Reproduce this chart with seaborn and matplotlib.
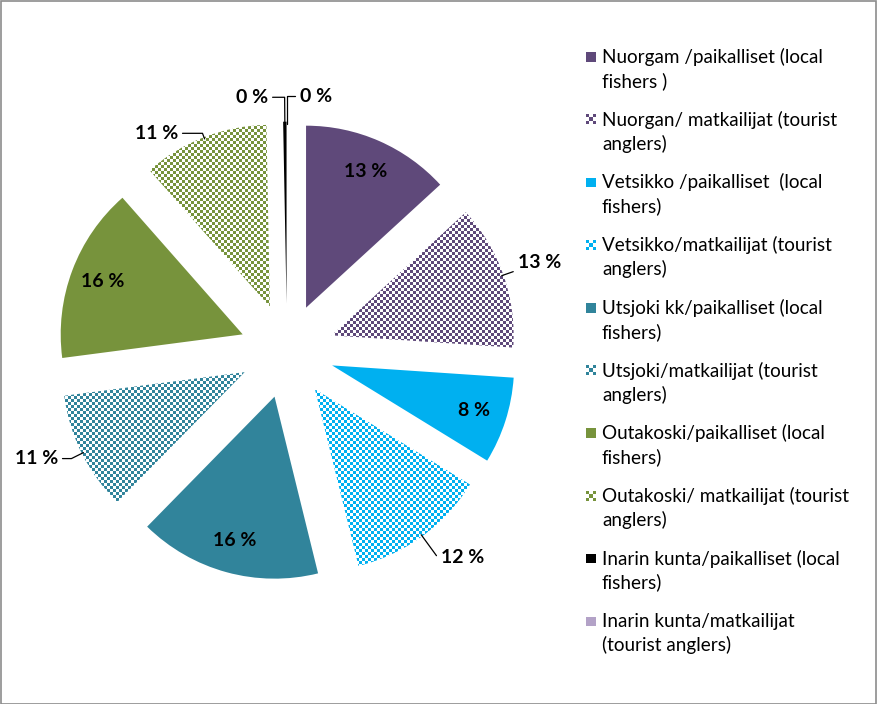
import numpy as np
import matplotlib
matplotlib.use("Agg")
import matplotlib.pyplot as plt
import seaborn as sns
from matplotlib.patches import Rectangle

# ---------------- data ----------------
categories = [
    "Nuorgam /paikalliset (local\nfishers )",
    "Nuorgan/ matkailijat (tourist\nanglers)",
    "Vetsikko /paikalliset  (local\nfishers)",
    "Vetsikko/matkailijat (tourist\nanglers)",
    "Utsjoki kk/paikalliset (local\nfishers)",
    "Utsjoki/matkailijat (tourist\nanglers)",
    "Outakoski/paikalliset (local\nfishers)",
    "Outakoski/ matkailijat (tourist\nanglers)",
    "Inarin kunta/paikalliset (local\nfishers)",
    "Inarin kunta/matkailijat\n(tourist anglers)",
]
values = [13.2, 12.9, 7.7, 12.4, 16.2, 10.6, 15.6, 11.2, 0.3, 0.0]
value_labels = ["13 %", "13 %", "8 %", "12 %", "16 %", "11 %", "16 %", "11 %", "0 %", "0 %"]

# ---------------- style ----------------
colors = ["#5F497A", "#5F497A", "#00B0F0", "#00B0F0", "#31849B",
          "#31849B", "#77933C", "#77933C", "#000000", "#B3A2C7"]
checkered = [False, True, False, True, False, True, False, True, False, False]
# (radial factor, angle shift in degrees, outside with leader line)
label_style = [(0.82, 0, False), (1.21, 0, True), (0.82, 0, False), (1.23, 5, True),
               (0.82, 0, False), (1.24, -4, True), (0.82, 0, False), (1.14, 12, True),
               (1.15, 9, True), (1.15, -8, True)]

sns.set_theme(style="white")
plt.rcParams["font.family"] = ["Lato", "DejaVu Sans"]

W, H = 877, 704
fig = plt.figure(figsize=(W / 100, H / 100), dpi=100)
fig.patch.set_facecolor("white")

R_PX = 182
CX, CY = 287, 351
HW, HH = 279, 339
CELL = 3

ax = fig.add_axes([(CX - HW) / W, (H - CY - HH) / H, 2 * HW / W, 2 * HH / H])

wedges, _ = ax.pie(values, explode=[0.26] * len(values), colors=colors,
                   startangle=90, counterclock=False, radius=1, normalize=True,
                   wedgeprops=dict(linewidth=0))

xl = (-HW / R_PX, HW / R_PX)
yl = (-HH / R_PX, HH / R_PX)


def checker(color, nx, ny):
    rgb = np.array(matplotlib.colors.to_rgb(color))
    arr = np.ones((ny, nx, 3))
    ii, jj = np.indices((ny, nx))
    mask = (ii + jj) % 2 == 0
    arr[mask] = rgb
    return arr


for w, c, chk in zip(wedges, colors, checkered):
    if chk:
        w.set_facecolor("none")
        img = ax.imshow(checker(c, 2 * HW // CELL, 2 * HH // CELL),
                        extent=(xl[0], xl[1], yl[0], yl[1]),
                        interpolation="nearest", origin="upper", zorder=w.get_zorder())
        img.set_clip_path(w)

ax.set_xlim(*xl)
ax.set_ylim(*yl)
ax.set_aspect("auto")
ax.axis("off")

# value labels
for w, txt, (rf, dth, outside) in zip(wedges, value_labels, label_style):
    mid = np.deg2rad((w.theta1 + w.theta2) / 2)
    cx, cy = w.center
    ang = mid + np.deg2rad(dth)
    pos = (cx + rf * np.cos(ang), cy + rf * np.sin(ang))
    if outside:
        anchor = (cx + 0.99 * np.cos(mid), cy + 0.99 * np.sin(mid))
        relx = 0 if pos[0] > anchor[0] else 1
        ax.annotate(txt, xy=anchor, xytext=pos, ha="center", va="center",
                    fontsize=14, fontweight="bold", color="black",
                    arrowprops=dict(arrowstyle="-", color="black", lw=0.9,
                                    shrinkA=1, shrinkB=0, relpos=(relx, 0.5),
                                    connectionstyle=f"angle,angleA=0,angleB={np.rad2deg(mid):.1f},rad=0"))
    else:
        ax.text(pos[0], pos[1], txt, ha="center", va="center",
                fontsize=14, fontweight="bold", color="black")

# legend drawn in pixel coordinates
lax = fig.add_axes([0, 0, 1, 1])
lax.set_xlim(0, W)
lax.set_ylim(H, 0)
lax.axis("off")

for i, (lab, c, chk) in enumerate(zip(categories, colors, checkered)):
    base = 63 + 62.7 * i
    sq = 9.5
    y0 = base - 6 - sq / 2
    if chk:
        lax.imshow(checker(c, 3, 3), extent=(586, 586 + sq, y0 + sq, y0),
                   interpolation="nearest", zorder=2)
    else:
        lax.add_patch(Rectangle((586, y0), sq, sq, facecolor=c, edgecolor="none"))
    for k, line in enumerate(lab.split("\n")):
        lax.text(602, base + 24 * k, line, ha="left", va="baseline",
                 fontsize=13.6, color="black")

lax.set_xlim(0, W)
lax.set_ylim(H, 0)
lax.set_aspect("auto")

fig.patches.append(Rectangle((0.5 / W, 0.5 / H), 1 - 1.5 / W, 1 - 1.5 / H,
                             transform=fig.transFigure, fill=False,
                             edgecolor="#8c8c8c", lw=1.2))

fig.savefig("out.png", dpi=100)
